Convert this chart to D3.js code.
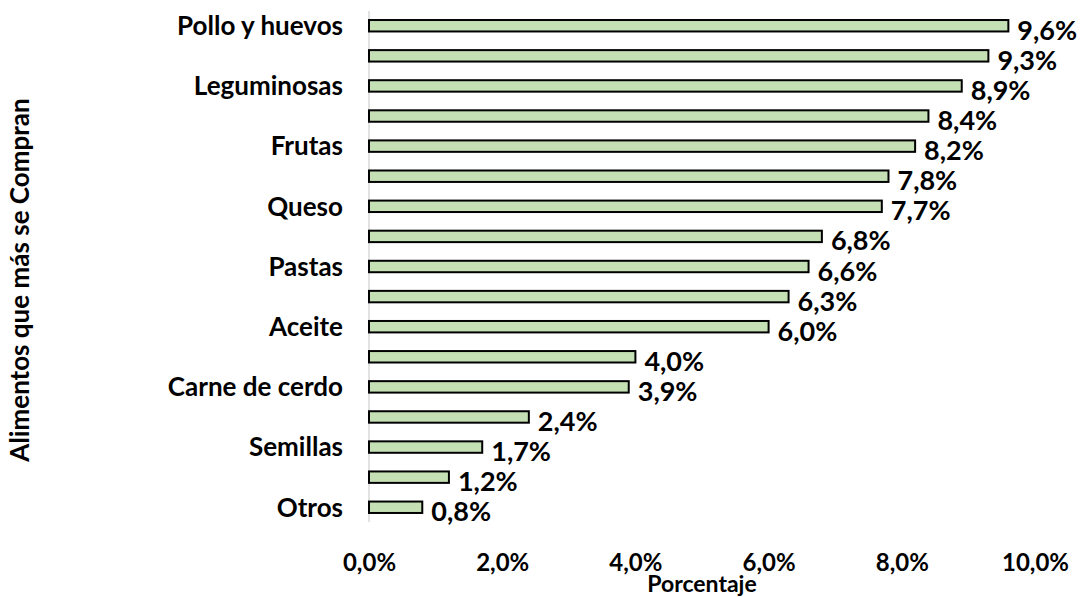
<!DOCTYPE html>
<html>
  <head>
    <meta charset="utf-8">
    <title></title>
    <style>
      body { margin: 0; background: #fff; }
      text { font-family: Lato, "Open Sans", sans-serif; font-weight: bold; fill: #000; }
    </style>
  </head>
  <body>
    <script src="https://cdn.jsdelivr.net/npm/d3@7"></script>
    <script>
      // categorias (las vacias no se muestran en el grafico original)
      var categories = ['Pollo y huevos', '', 'Leguminosas', '', 'Frutas', '', 'Queso', '',
        'Pastas', '', 'Aceite', '', 'Carne de cerdo', '', 'Semillas', '', 'Otros'];
      var values = [9.6, 9.3, 8.9, 8.4, 8.2, 7.8, 7.7, 6.8, 6.6, 6.3, 6.0, 4.0, 3.9, 2.4, 1.7, 1.2, 0.8];
      var xTicks = [0, 2, 4, 6, 8, 10];

      var width = 1084,
        height = 597,
        padding = { top: 11, right: 49, bottom: 75, left: 369 };

      var svg = d3.select('body')
        .append('svg')
        .attr('width', width)
        .attr('height', height);

      var fmt = function(d) { return d.toFixed(1).replace('.', ',') + '%'; };

      var x = d3.scaleLinear()
        .domain([0, 10])
        .range([padding.left, width - padding.right]);

      var y = d3.scaleBand()
        .domain(d3.range(categories.length))
        .range([padding.top, height - padding.bottom])
        .paddingInner(0.62)
        .paddingOuter(0.3);

      // eje vertical
      svg.append('line')
        .attr('x1', x(0)).attr('x2', x(0))
        .attr('y1', padding.top).attr('y2', height - padding.bottom)
        .attr('stroke', '#d9d9d9')
        .attr('stroke-width', 1.5);

      // barras
      svg.selectAll('.bar').data(values).enter()
        .append('rect')
        .classed('bar', true)
        .attr('x', x(0))
        .attr('y', function(d, i) { return y(i); })
        .attr('width', function(d) { return x(d) - x(0); })
        .attr('height', y.bandwidth())
        .attr('fill', '#c5e0b4')
        .attr('stroke', '#000')
        .attr('stroke-width', 2);

      // etiquetas de valores
      svg.selectAll('.val').data(values).enter()
        .append('text')
        .classed('val', true)
        .attr('x', function(d) { return x(d) + 9; })
        .attr('y', function(d, i) { return y(i) + y.bandwidth() / 2 + 14; })
        .attr('font-size', '27px')
        .text(fmt);

      // etiquetas de categorias
      svg.selectAll('.cat').data(categories).enter()
        .append('text')
        .classed('cat', true)
        .attr('x', x(0) - 26)
        .attr('y', function(d, i) { return y(i) + y.bandwidth() / 2; })
        .attr('dy', '0.36em')
        .attr('text-anchor', 'end')
        .attr('font-size', '26px')
        .text(function(d) { return d; });

      // eje x
      var xAxis = d3.axisBottom(x).tickValues(xTicks).tickSize(0).tickPadding(0).tickFormat(fmt);
      var gx = svg.append('g')
        .attr('transform', 'translate(0,' + 571 + ')')
        .call(xAxis);
      gx.select('.domain').remove();
      gx.selectAll('text')
        .attr('font-size', '24px')
        .attr('dy', 0)
        .attr('y', 0);

      // titulos
      svg.append('text')
        .attr('x', (x(0) + x(10)) / 2)
        .attr('y', 592)
        .attr('text-anchor', 'middle')
        .attr('font-size', '23px')
        .text('Porcentaje');

      svg.append('text')
        .attr('transform', 'translate(29,' + 280 + ') rotate(-90)')
        .attr('text-anchor', 'middle')
        .attr('font-size', '26px')
        .text('Alimentos que más se Compran');
    </script>
  </body>
</html>
